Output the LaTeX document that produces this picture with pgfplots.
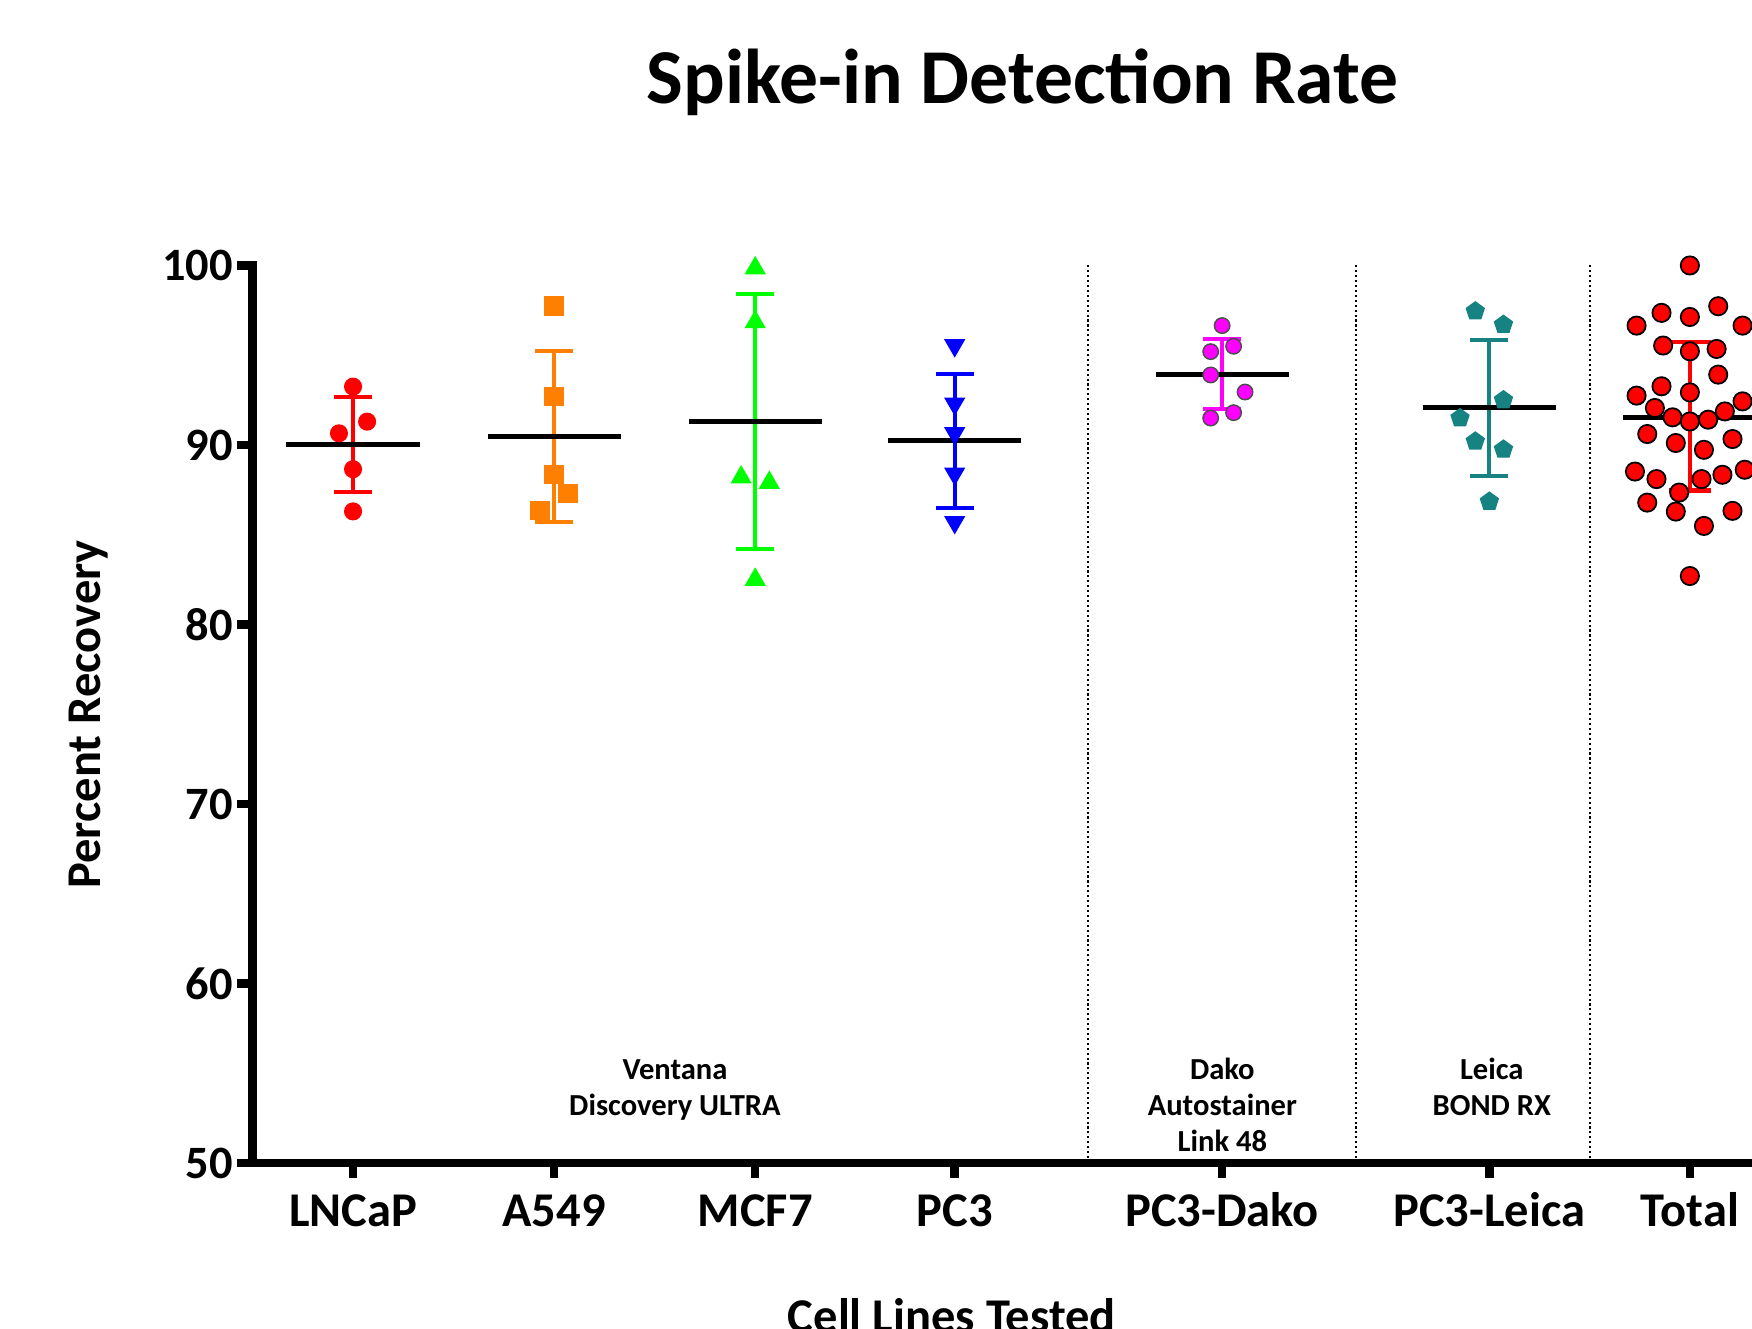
\documentclass[border=0pt]{standalone}
\usepackage{fontspec}
\setmainfont{Carlito}
\usepackage{pgfplots}
\pgfplotsset{compat=1.18}

\definecolor{cLN}{HTML}{FF0000}
\definecolor{cA5}{HTML}{FF8000}
\definecolor{cMC}{HTML}{00FF00}
\definecolor{cPC}{HTML}{0000FF}
\definecolor{cDa}{HTML}{FF00FF}
\definecolor{cLe}{HTML}{168282}
\definecolor{cTo}{HTML}{FF0000}

\newcommand{\annot}{\bfseries\fontsize{8.7}{10}\selectfont}
\newcommand{\labfont}{\bfseries\fontsize{13.8}{16}\selectfont}

% error bar (SD) and mean line styles
\pgfplotsset{
  sdbar/.style={mark=none, color=#1,
    error bars/.cd, y dir=both, y explicit,
    error bar style={line width=1.2pt, draw=#1},
    error mark options={rotate=90, line width=1.2pt, mark size=0.19cm, draw=#1}},
  meanline/.style={mark=none, black,
    error bars/.cd, x dir=both, x explicit, error mark=none,
    error bar style={line width=1.4pt, draw=black}},
  sep/.style={black, line width=0.6pt, dash pattern=on 0.6pt off 0.8pt},
}

\begin{document}
\begin{tikzpicture}
\begin{axis}[
  name=ax,
  scale only axis,
  width=14.995cm, height=8.975cm,
  xmin=-0.5, xmax=6.957, ymin=50, ymax=100,
  clip=false,
  axis lines=left,
  axis line style={-, line width=2.4pt, line cap=rect},
  tick align=outside,
  major tick length=0.15cm,
  tick style={line width=2.4pt, black},
  ytick={50,60,...,100},
  xtick={0,1,2,2.992,4.322,5.651,6.648},
  xticklabels={LNCaP,A549,MCF7,PC3,PC3-Dako,PC3-Leica,Total},
  /pgf/number format/assume math mode=true,
  yticklabel style={font=\bfseries\fontsize{13.2}{15}\selectfont, inner sep=0pt, anchor=east, xshift=-0.04cm},
  xticklabel style={font=\labfont, inner sep=0pt, anchor=base, yshift=-0.487cm},
]
% separators between instruments
\addplot[sep] coordinates {(3.656,50) (3.656,100)};
\addplot[sep] coordinates {(4.987,50) (4.987,100)};
\addplot[sep] coordinates {(6.151,50) (6.151,100)};

% LNCaP
\addplot[only marks, mark=*, color=cLN, mark size=2.37pt] coordinates {
  (0,93.25) (0.07,91.3) (-0.07,90.65) (0,88.65) (0,86.3)};
\addplot[sdbar=cLN] coordinates {(0,90.03) +- (0,2.65)};
\addplot[meanline] coordinates {(0,90.03) +- (0.331,0)};

% A549
\addplot[only marks, mark=square*, color=cA5, mark size=2.6pt] coordinates {
  (1,97.75) (1,92.7) (1,88.35) (1.07,87.3) (0.93,86.35)};
\addplot[sdbar=cA5] coordinates {(1,90.48) +- (0,4.75)};
\addplot[meanline] coordinates {(1,90.48) +- (0.331,0)};

% MCF7
\addplot[only marks, mark=triangle*, color=cMC, mark size=3.1pt] coordinates {
  (2,99.85) (2,96.85) (1.93,88.2) (2.07,87.9) (2,82.5)};
\addplot[sdbar=cMC] coordinates {(2,91.3) +- (0,7.1)};
\addplot[meanline] coordinates {(2,91.3) +- (0.331,0)};

% PC3
\addplot[only marks, mark=triangle*, mark options={rotate=180}, color=cPC, mark size=3.1pt] coordinates {
  (2.992,95.55) (2.992,92.3) (2.992,90.65) (2.992,88.4) (2.992,85.7)};
\addplot[sdbar=cPC] coordinates {(2.992,90.23) +- (0,3.73)};
\addplot[meanline] coordinates {(2.992,90.23) +- (0.331,0)};

% PC3-Dako
\addplot[only marks, mark=*, mark options={fill=cDa, draw=black!70, line width=0.4pt}, mark size=2.2pt] coordinates {
  (4.322,96.65) (4.265,95.2) (4.379,95.5) (4.265,93.9) (4.436,92.95) (4.379,91.8) (4.265,91.5)};
\addplot[sdbar=cDa] coordinates {(4.322,93.95) +- (0,1.95)};
\addplot[meanline] coordinates {(4.322,93.93) +- (0.331,0)};

% PC3-Leica
\addplot[only marks, mark=pentagon*, color=cLe, mark size=2.65pt] coordinates {
  (5.581,97.45) (5.721,96.7) (5.721,92.5) (5.505,91.5) (5.581,90.2) (5.721,89.75) (5.651,86.85)};
\addplot[sdbar=cLe] coordinates {(5.651,92.07) +- (0,3.8)};
\addplot[meanline] coordinates {(5.651,92.07) +- (0.331,0)};

% Total
\addplot[only marks, mark=*, mark options={fill=cTo, draw=black, line width=0.5pt}, mark size=2.6pt] coordinates {
  (6.648,100.0) (6.507,97.36) (6.648,97.13) (6.789,97.73) (6.383,96.65) (6.910,96.65)
  (6.515,95.54) (6.648,95.22) (6.781,95.35) (6.789,93.92) (6.507,93.27) (6.648,92.93)
  (6.383,92.75) (6.910,92.43) (6.474,92.06) (6.822,91.87) (6.562,91.54) (6.648,91.31)
  (6.739,91.41) (6.436,90.61) (6.578,90.11) (6.860,90.33) (6.718,89.73) (6.375,88.52)
  (6.482,88.10) (6.706,88.10) (6.810,88.34) (6.921,88.62) (6.595,87.35) (6.436,86.79)
  (6.578,86.29) (6.860,86.33) (6.718,85.49) (6.648,82.70)};
\addplot[sdbar=cTo, error mark options={rotate=90, line width=1.2pt, mark size=0.21cm, draw=cTo}]
  coordinates {(6.648,91.59) +- (0,4.13)};
\addplot[meanline] coordinates {(6.648,91.55) +- (0.331,0)};

% instrument notes
\node[anchor=base, font=\annot] at (axis cs:1.601,54.66) {Ventana};
\node[anchor=base, font=\annot] at (axis cs:1.601,52.62) {Discovery ULTRA};
\node[anchor=base, font=\annot] at (axis cs:4.323,54.66) {Dako};
\node[anchor=base, font=\annot] at (axis cs:4.323,52.62) {Autostainer};
\node[anchor=base, font=\annot] at (axis cs:4.323,50.63) {Link 48};
\node[anchor=base, font=\annot] at (axis cs:5.663,54.66) {Leica};
\node[anchor=base, font=\annot] at (axis cs:5.663,52.62) {BOND RX};

% titles
\node[anchor=base, font=\bfseries\fontsize{22.1}{24}\selectfont]
  at ([yshift=1.615cm]axis cs:3.33,100) {Spike-in Detection Rate};
\node[rotate=90, anchor=base, font=\labfont]
  at ([xshift=-1.52cm]rel axis cs:0,0.5) {Percent Recovery};
\node[anchor=base, font=\labfont]
  at ([yshift=-1.70cm]axis cs:2.978,50) {Cell Lines Tested};
\end{axis}
\pgfresetboundingbox
\path[use as bounding box] ([xshift=-2.525cm, yshift=-1.66cm]ax.south west) rectangle ([yshift=2.655cm]ax.north east);
\end{tikzpicture}
\end{document}
